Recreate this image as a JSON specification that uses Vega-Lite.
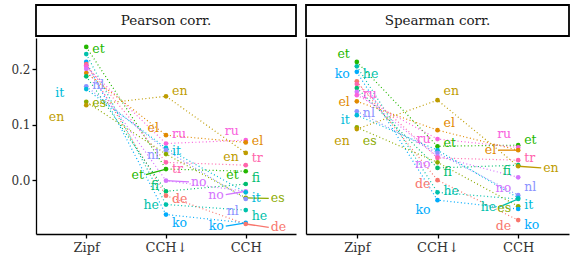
{
  "$schema": "https://vega.github.io/schema/vega-lite/v6.json",
  "padding": {"left": 10, "top": 4, "right": 4, "bottom": 2},
  "background": "white",
  "config": {
    "view": {"stroke": null},
    "concat": {"spacing": 8},
    "axis": {"grid": false, "domainColor": "black", "domainWidth": 1.3, "tickColor": "black", "tickWidth": 1.3, "tickSize": 4, "labelFont": "DejaVu Serif", "labelColor": "#333333", "labelFontSize": 12.5, "title": null}
  },
  "datasets": {
    "pts": [
      {"metric": "Pearson corr.", "method": "Zipf", "lang": "et", "value": 0.240},
      {"metric": "Pearson corr.", "method": "Zipf", "lang": "he", "value": 0.227},
      {"metric": "Pearson corr.", "method": "Zipf", "lang": "ko", "value": 0.213},
      {"metric": "Pearson corr.", "method": "Zipf", "lang": "de", "value": 0.209},
      {"metric": "Pearson corr.", "method": "Zipf", "lang": "tr", "value": 0.207},
      {"metric": "Pearson corr.", "method": "Zipf", "lang": "ru", "value": 0.204},
      {"metric": "Pearson corr.", "method": "Zipf", "lang": "no", "value": 0.200},
      {"metric": "Pearson corr.", "method": "Zipf", "lang": "el", "value": 0.193},
      {"metric": "Pearson corr.", "method": "Zipf", "lang": "fi", "value": 0.187},
      {"metric": "Pearson corr.", "method": "Zipf", "lang": "nl", "value": 0.169},
      {"metric": "Pearson corr.", "method": "Zipf", "lang": "it", "value": 0.164},
      {"metric": "Pearson corr.", "method": "Zipf", "lang": "es", "value": 0.141},
      {"metric": "Pearson corr.", "method": "Zipf", "lang": "en", "value": 0.135},
      {"metric": "Pearson corr.", "method": "CCH↓", "lang": "en", "value": 0.151},
      {"metric": "Pearson corr.", "method": "CCH↓", "lang": "el", "value": 0.081},
      {"metric": "Pearson corr.", "method": "CCH↓", "lang": "ru", "value": 0.066},
      {"metric": "Pearson corr.", "method": "CCH↓", "lang": "it", "value": 0.058},
      {"metric": "Pearson corr.", "method": "CCH↓", "lang": "nl", "value": 0.054},
      {"metric": "Pearson corr.", "method": "CCH↓", "lang": "es", "value": 0.047},
      {"metric": "Pearson corr.", "method": "CCH↓", "lang": "tr", "value": 0.032},
      {"metric": "Pearson corr.", "method": "CCH↓", "lang": "et", "value": 0.020},
      {"metric": "Pearson corr.", "method": "CCH↓", "lang": "no", "value": -0.001},
      {"metric": "Pearson corr.", "method": "CCH↓", "lang": "fi", "value": -0.020},
      {"metric": "Pearson corr.", "method": "CCH↓", "lang": "de", "value": -0.028},
      {"metric": "Pearson corr.", "method": "CCH↓", "lang": "he", "value": -0.044},
      {"metric": "Pearson corr.", "method": "CCH↓", "lang": "ko", "value": -0.062},
      {"metric": "Pearson corr.", "method": "CCH", "lang": "ru", "value": 0.072},
      {"metric": "Pearson corr.", "method": "CCH", "lang": "el", "value": 0.068},
      {"metric": "Pearson corr.", "method": "CCH", "lang": "en", "value": 0.049},
      {"metric": "Pearson corr.", "method": "CCH", "lang": "tr", "value": 0.027},
      {"metric": "Pearson corr.", "method": "CCH", "lang": "et", "value": 0.016},
      {"metric": "Pearson corr.", "method": "CCH", "lang": "fi", "value": -0.007},
      {"metric": "Pearson corr.", "method": "CCH", "lang": "no", "value": -0.020},
      {"metric": "Pearson corr.", "method": "CCH", "lang": "it", "value": -0.022},
      {"metric": "Pearson corr.", "method": "CCH", "lang": "es", "value": -0.032},
      {"metric": "Pearson corr.", "method": "CCH", "lang": "nl", "value": -0.034},
      {"metric": "Pearson corr.", "method": "CCH", "lang": "he", "value": -0.054},
      {"metric": "Pearson corr.", "method": "CCH", "lang": "ko", "value": -0.077},
      {"metric": "Pearson corr.", "method": "CCH", "lang": "de", "value": -0.079},
      {"metric": "Spearman corr.", "method": "Zipf", "lang": "et", "value": 0.213},
      {"metric": "Spearman corr.", "method": "Zipf", "lang": "he", "value": 0.205},
      {"metric": "Spearman corr.", "method": "Zipf", "lang": "ko", "value": 0.195},
      {"metric": "Spearman corr.", "method": "Zipf", "lang": "de", "value": 0.178},
      {"metric": "Spearman corr.", "method": "Zipf", "lang": "tr", "value": 0.173},
      {"metric": "Spearman corr.", "method": "Zipf", "lang": "fi", "value": 0.166},
      {"metric": "Spearman corr.", "method": "Zipf", "lang": "no", "value": 0.159},
      {"metric": "Spearman corr.", "method": "Zipf", "lang": "ru", "value": 0.153},
      {"metric": "Spearman corr.", "method": "Zipf", "lang": "el", "value": 0.142},
      {"metric": "Spearman corr.", "method": "Zipf", "lang": "nl", "value": 0.124},
      {"metric": "Spearman corr.", "method": "Zipf", "lang": "it", "value": 0.117},
      {"metric": "Spearman corr.", "method": "Zipf", "lang": "es", "value": 0.095},
      {"metric": "Spearman corr.", "method": "Zipf", "lang": "en", "value": 0.092},
      {"metric": "Spearman corr.", "method": "CCH↓", "lang": "en", "value": 0.144},
      {"metric": "Spearman corr.", "method": "CCH↓", "lang": "el", "value": 0.090},
      {"metric": "Spearman corr.", "method": "CCH↓", "lang": "ru", "value": 0.074},
      {"metric": "Spearman corr.", "method": "CCH↓", "lang": "et", "value": 0.061},
      {"metric": "Spearman corr.", "method": "CCH↓", "lang": "it", "value": 0.054},
      {"metric": "Spearman corr.", "method": "CCH↓", "lang": "nl", "value": 0.049},
      {"metric": "Spearman corr.", "method": "CCH↓", "lang": "no", "value": 0.043},
      {"metric": "Spearman corr.", "method": "CCH↓", "lang": "tr", "value": 0.040},
      {"metric": "Spearman corr.", "method": "CCH↓", "lang": "es", "value": 0.032},
      {"metric": "Spearman corr.", "method": "CCH↓", "lang": "fi", "value": 0.022},
      {"metric": "Spearman corr.", "method": "CCH↓", "lang": "de", "value": 0.000},
      {"metric": "Spearman corr.", "method": "CCH↓", "lang": "he", "value": -0.022},
      {"metric": "Spearman corr.", "method": "CCH↓", "lang": "ko", "value": -0.036},
      {"metric": "Spearman corr.", "method": "CCH", "lang": "et", "value": 0.063},
      {"metric": "Spearman corr.", "method": "CCH", "lang": "ru", "value": 0.059},
      {"metric": "Spearman corr.", "method": "CCH", "lang": "el", "value": 0.054},
      {"metric": "Spearman corr.", "method": "CCH", "lang": "tr", "value": 0.036},
      {"metric": "Spearman corr.", "method": "CCH", "lang": "fi", "value": 0.027},
      {"metric": "Spearman corr.", "method": "CCH", "lang": "en", "value": 0.025},
      {"metric": "Spearman corr.", "method": "CCH", "lang": "no", "value": 0.005},
      {"metric": "Spearman corr.", "method": "CCH", "lang": "nl", "value": -0.027},
      {"metric": "Spearman corr.", "method": "CCH", "lang": "it", "value": -0.032},
      {"metric": "Spearman corr.", "method": "CCH", "lang": "he", "value": -0.034},
      {"metric": "Spearman corr.", "method": "CCH", "lang": "es", "value": -0.047},
      {"metric": "Spearman corr.", "method": "CCH", "lang": "ko", "value": -0.052},
      {"metric": "Spearman corr.", "method": "CCH", "lang": "de", "value": -0.072}
    ],
    "labs": [
      {"metric": "Pearson corr.", "method": "Zipf", "lang": "et", "side": "r", "at": 0.236},
      {"metric": "Pearson corr.", "method": "Zipf", "lang": "nl", "side": "r", "at": 0.171},
      {"metric": "Pearson corr.", "method": "Zipf", "lang": "it", "side": "ll", "at": 0.157},
      {"metric": "Pearson corr.", "method": "Zipf", "lang": "es", "side": "r", "at": 0.139},
      {"metric": "Pearson corr.", "method": "Zipf", "lang": "en", "side": "ll", "at": 0.114},
      {"metric": "Pearson corr.", "method": "CCH↓", "lang": "en", "side": "r", "at": 0.161},
      {"metric": "Pearson corr.", "method": "CCH↓", "lang": "el", "side": "l", "at": 0.094},
      {"metric": "Pearson corr.", "method": "CCH↓", "lang": "ru", "side": "r", "at": 0.083},
      {"metric": "Pearson corr.", "method": "CCH↓", "lang": "it", "side": "r", "at": 0.052},
      {"metric": "Pearson corr.", "method": "CCH↓", "lang": "nl", "side": "l", "at": 0.046},
      {"metric": "Pearson corr.", "method": "CCH↓", "lang": "tr", "side": "r", "at": 0.020},
      {"metric": "Pearson corr.", "method": "CCH↓", "lang": "et", "side": "ll", "at": 0.010, "value": 0.020},
      {"metric": "Pearson corr.", "method": "CCH↓", "lang": "no", "side": "rr", "at": -0.003, "value": -0.001},
      {"metric": "Pearson corr.", "method": "CCH↓", "lang": "fi", "side": "l", "at": -0.011},
      {"metric": "Pearson corr.", "method": "CCH↓", "lang": "de", "side": "r", "at": -0.034},
      {"metric": "Pearson corr.", "method": "CCH↓", "lang": "he", "side": "l", "at": -0.044},
      {"metric": "Pearson corr.", "method": "CCH↓", "lang": "ko", "side": "r", "at": -0.077},
      {"metric": "Pearson corr.", "method": "CCH", "lang": "ru", "side": "l", "at": 0.088},
      {"metric": "Pearson corr.", "method": "CCH", "lang": "el", "side": "r", "at": 0.070},
      {"metric": "Pearson corr.", "method": "CCH", "lang": "en", "side": "l", "at": 0.041},
      {"metric": "Pearson corr.", "method": "CCH", "lang": "tr", "side": "r", "at": 0.039},
      {"metric": "Pearson corr.", "method": "CCH", "lang": "et", "side": "l", "at": 0.010},
      {"metric": "Pearson corr.", "method": "CCH", "lang": "fi", "side": "r", "at": 0.003},
      {"metric": "Pearson corr.", "method": "CCH", "lang": "no", "side": "ll", "at": -0.026, "value": -0.020},
      {"metric": "Pearson corr.", "method": "CCH", "lang": "it", "side": "r", "at": -0.033},
      {"metric": "Pearson corr.", "method": "CCH", "lang": "es", "side": "rr", "at": -0.033, "value": -0.032},
      {"metric": "Pearson corr.", "method": "CCH", "lang": "nl", "side": "l", "at": -0.055},
      {"metric": "Pearson corr.", "method": "CCH", "lang": "he", "side": "r", "at": -0.065},
      {"metric": "Pearson corr.", "method": "CCH", "lang": "ko", "side": "ll", "at": -0.083, "value": -0.077},
      {"metric": "Pearson corr.", "method": "CCH", "lang": "de", "side": "rr", "at": -0.085, "value": -0.079},
      {"metric": "Spearman corr.", "method": "Zipf", "lang": "et", "side": "l", "at": 0.227},
      {"metric": "Spearman corr.", "method": "Zipf", "lang": "ko", "side": "l", "at": 0.192},
      {"metric": "Spearman corr.", "method": "Zipf", "lang": "he", "side": "r", "at": 0.192},
      {"metric": "Spearman corr.", "method": "Zipf", "lang": "ru", "side": "r", "at": 0.155},
      {"metric": "Spearman corr.", "method": "Zipf", "lang": "el", "side": "l", "at": 0.141},
      {"metric": "Spearman corr.", "method": "Zipf", "lang": "nl", "side": "r", "at": 0.121},
      {"metric": "Spearman corr.", "method": "Zipf", "lang": "it", "side": "l", "at": 0.108},
      {"metric": "Spearman corr.", "method": "Zipf", "lang": "en", "side": "l", "at": 0.070},
      {"metric": "Spearman corr.", "method": "Zipf", "lang": "es", "side": "r", "at": 0.070},
      {"metric": "Spearman corr.", "method": "CCH↓", "lang": "en", "side": "r", "at": 0.160},
      {"metric": "Spearman corr.", "method": "CCH↓", "lang": "el", "side": "r", "at": 0.103},
      {"metric": "Spearman corr.", "method": "CCH↓", "lang": "ru", "side": "l", "at": 0.074},
      {"metric": "Spearman corr.", "method": "CCH↓", "lang": "et", "side": "r", "at": 0.067},
      {"metric": "Spearman corr.", "method": "CCH↓", "lang": "no", "side": "l", "at": 0.029},
      {"metric": "Spearman corr.", "method": "CCH↓", "lang": "fi", "side": "r", "at": 0.014},
      {"metric": "Spearman corr.", "method": "CCH↓", "lang": "de", "side": "l", "at": -0.007},
      {"metric": "Spearman corr.", "method": "CCH↓", "lang": "he", "side": "r", "at": -0.020},
      {"metric": "Spearman corr.", "method": "CCH↓", "lang": "ko", "side": "l", "at": -0.054},
      {"metric": "Spearman corr.", "method": "CCH", "lang": "ru", "side": "l", "at": 0.083},
      {"metric": "Spearman corr.", "method": "CCH", "lang": "et", "side": "r", "at": 0.072},
      {"metric": "Spearman corr.", "method": "CCH", "lang": "el", "side": "ll", "at": 0.054, "value": 0.054},
      {"metric": "Spearman corr.", "method": "CCH", "lang": "tr", "side": "r", "at": 0.039},
      {"metric": "Spearman corr.", "method": "CCH", "lang": "en", "side": "rr", "at": 0.022, "value": 0.025},
      {"metric": "Spearman corr.", "method": "CCH", "lang": "fi", "side": "l", "at": 0.017},
      {"metric": "Spearman corr.", "method": "CCH", "lang": "no", "side": "l", "at": -0.014},
      {"metric": "Spearman corr.", "method": "CCH", "lang": "nl", "side": "r", "at": -0.013},
      {"metric": "Spearman corr.", "method": "CCH", "lang": "it", "side": "r", "at": -0.045},
      {"metric": "Spearman corr.", "method": "CCH", "lang": "he", "side": "ll", "at": -0.049, "value": -0.034},
      {"metric": "Spearman corr.", "method": "CCH", "lang": "es", "side": "l", "at": -0.050},
      {"metric": "Spearman corr.", "method": "CCH", "lang": "ko", "side": "r", "at": -0.080},
      {"metric": "Spearman corr.", "method": "CCH", "lang": "de", "side": "l", "at": -0.083}
    ],
    "strips": [
      {"metric": "Pearson corr."},
      {"metric": "Spearman corr."}
    ]
  },
  "hconcat": [
    {
      "spacing": 1,
      "vconcat": [
        {
          "width": 260, "height": 31,
          "data": {"name": "strips"},
          "transform": [{"filter": "datum.metric === 'Pearson corr.'"}],
          "layer": [
            {"mark": {"type": "rect", "fill": "white", "stroke": "black", "strokeWidth": 1.8}, "encoding": {}},
            {"mark": {"type": "text", "fontSize": 13.5, "color": "#1a1a1a", "font": "DejaVu Serif"}, "encoding": {"text": {"field": "metric"}}}
          ]
        },
        {
          "width": 260, "height": 196,
          "encoding": {
            "x": {"field": "method", "type": "nominal", "sort": ["Zipf", "CCH↓", "CCH"], "scale": {"type": "point", "padding": 0.63}, "axis": {"labelAngle": 0, "labelPadding": 3, "labelFont": "DejaVu Serif", "labelFontSize": 13}},
            "color": {"field": "lang", "type": "nominal", "legend": null, "scale": {"domain": ["de", "el", "en", "es", "et", "fi", "he", "it", "ko", "nl", "no", "ru", "tr"], "range": ["#F8766D", "#E18A00", "#BE9C00", "#8CAB00", "#24B700", "#00BE70", "#00C1AB", "#00BBDA", "#00ACFC", "#8B93FF", "#D575FE", "#F962DD", "#FF65AC"]}}
          },
          "layer": [
            {
              "data": {"name": "pts"},
              "transform": [{"filter": "datum.metric === 'Pearson corr.'"}],
              "mark": {"type": "line", "strokeDash": [1, 2.5], "strokeWidth": 1.2},
              "encoding": {
                "y": {"field": "value", "type": "quantitative", "scale": {"domain": [-0.097, 0.256], "nice": false, "zero": false}, "axis": {"values": [0, 0.1, 0.2], "format": ".1f", "labelFont": "DejaVu Serif", "labelFontSize": 12}},
                "detail": {"field": "lang"}
              }
            },
            {
              "data": {"name": "labs"},
              "transform": [{"filter": "datum.metric === 'Pearson corr.' && datum.side === 'll' && datum.value != null"}],
              "mark": {"type": "rule", "strokeWidth": 1.3, "xOffset": -20},
              "encoding": {"y": {"field": "at", "type": "quantitative"}, "y2": {"field": "value"}, "x2": {"field": "method"}}
            },
            {
              "data": {"name": "labs"},
              "transform": [{"filter": "datum.metric === 'Pearson corr.' && datum.side === 'rr' && datum.value != null"}],
              "mark": {"type": "rule", "strokeWidth": 1.3, "xOffset": 23},
              "encoding": {"y": {"field": "at", "type": "quantitative"}, "y2": {"field": "value"}, "x2": {"field": "method"}}
            },
            {
              "data": {"name": "pts"},
              "transform": [{"filter": "datum.metric === 'Pearson corr.'"}],
              "mark": {"type": "circle", "size": 22, "opacity": 1},
              "encoding": {"y": {"field": "value", "type": "quantitative"}}
            },
            {
              "data": {"name": "labs"},
              "transform": [{"filter": "datum.metric === 'Pearson corr.' && datum.side === 'r'"}],
              "mark": {"type": "text", "align": "left", "dx": 6, "fontSize": 12.5, "baseline": "middle", "font": "DejaVu Serif"},
              "encoding": {"y": {"field": "at", "type": "quantitative"}, "text": {"field": "lang"}}
            },
            {
              "data": {"name": "labs"},
              "transform": [{"filter": "datum.metric === 'Pearson corr.' && datum.side === 'rr'"}],
              "mark": {"type": "text", "align": "left", "dx": 25, "fontSize": 12.5, "baseline": "middle", "font": "DejaVu Serif"},
              "encoding": {"y": {"field": "at", "type": "quantitative"}, "text": {"field": "lang"}}
            },
            {
              "data": {"name": "labs"},
              "transform": [{"filter": "datum.metric === 'Pearson corr.' && datum.side === 'l'"}],
              "mark": {"type": "text", "align": "right", "dx": -7, "fontSize": 12.5, "baseline": "middle", "font": "DejaVu Serif"},
              "encoding": {"y": {"field": "at", "type": "quantitative"}, "text": {"field": "lang"}}
            },
            {
              "data": {"name": "labs"},
              "transform": [{"filter": "datum.metric === 'Pearson corr.' && datum.side === 'll'"}],
              "mark": {"type": "text", "align": "right", "dx": -22, "fontSize": 12.5, "baseline": "middle", "font": "DejaVu Serif"},
              "encoding": {"y": {"field": "at", "type": "quantitative"}, "text": {"field": "lang"}}
            }
          ]
        }
      ]
    },
    {
      "spacing": 1,
      "vconcat": [
        {
          "width": 263, "height": 31,
          "data": {"name": "strips"},
          "transform": [{"filter": "datum.metric === 'Spearman corr.'"}],
          "layer": [
            {"mark": {"type": "rect", "fill": "white", "stroke": "black", "strokeWidth": 1.8}, "encoding": {}},
            {"mark": {"type": "text", "fontSize": 13.5, "color": "#1a1a1a", "font": "DejaVu Serif"}, "encoding": {"text": {"field": "metric"}}}
          ]
        },
        {
          "width": 263, "height": 196,
          "encoding": {
            "x": {"field": "method", "type": "nominal", "sort": ["Zipf", "CCH↓", "CCH"], "scale": {"type": "point", "padding": 0.63}, "axis": {"labelAngle": 0, "labelPadding": 3, "labelFont": "DejaVu Serif", "labelFontSize": 13}},
            "color": {"field": "lang", "type": "nominal", "legend": null, "scale": {"domain": ["de", "el", "en", "es", "et", "fi", "he", "it", "ko", "nl", "no", "ru", "tr"], "range": ["#F8766D", "#E18A00", "#BE9C00", "#8CAB00", "#24B700", "#00BE70", "#00C1AB", "#00BBDA", "#00ACFC", "#8B93FF", "#D575FE", "#F962DD", "#FF65AC"]}}
          },
          "layer": [
            {
              "data": {"name": "pts"},
              "transform": [{"filter": "datum.metric === 'Spearman corr.'"}],
              "mark": {"type": "line", "strokeDash": [1, 2.5], "strokeWidth": 1.2},
              "encoding": {
                "y": {"field": "value", "type": "quantitative", "scale": {"domain": [-0.097, 0.256], "nice": false, "zero": false}, "axis": {"values": [0, 0.1, 0.2], "labels": false, "ticks": false}},
                "detail": {"field": "lang"}
              }
            },
            {
              "data": {"name": "labs"},
              "transform": [{"filter": "datum.metric === 'Spearman corr.' && datum.side === 'll' && datum.value != null"}],
              "mark": {"type": "rule", "strokeWidth": 1.3, "xOffset": -20},
              "encoding": {"y": {"field": "at", "type": "quantitative"}, "y2": {"field": "value"}, "x2": {"field": "method"}}
            },
            {
              "data": {"name": "labs"},
              "transform": [{"filter": "datum.metric === 'Spearman corr.' && datum.side === 'rr' && datum.value != null"}],
              "mark": {"type": "rule", "strokeWidth": 1.3, "xOffset": 23},
              "encoding": {"y": {"field": "at", "type": "quantitative"}, "y2": {"field": "value"}, "x2": {"field": "method"}}
            },
            {
              "data": {"name": "pts"},
              "transform": [{"filter": "datum.metric === 'Spearman corr.'"}],
              "mark": {"type": "circle", "size": 22, "opacity": 1},
              "encoding": {"y": {"field": "value", "type": "quantitative"}}
            },
            {
              "data": {"name": "labs"},
              "transform": [{"filter": "datum.metric === 'Spearman corr.' && datum.side === 'r'"}],
              "mark": {"type": "text", "align": "left", "dx": 6, "fontSize": 12.5, "baseline": "middle", "font": "DejaVu Serif"},
              "encoding": {"y": {"field": "at", "type": "quantitative"}, "text": {"field": "lang"}}
            },
            {
              "data": {"name": "labs"},
              "transform": [{"filter": "datum.metric === 'Spearman corr.' && datum.side === 'rr'"}],
              "mark": {"type": "text", "align": "left", "dx": 25, "fontSize": 12.5, "baseline": "middle", "font": "DejaVu Serif"},
              "encoding": {"y": {"field": "at", "type": "quantitative"}, "text": {"field": "lang"}}
            },
            {
              "data": {"name": "labs"},
              "transform": [{"filter": "datum.metric === 'Spearman corr.' && datum.side === 'l'"}],
              "mark": {"type": "text", "align": "right", "dx": -7, "fontSize": 12.5, "baseline": "middle", "font": "DejaVu Serif"},
              "encoding": {"y": {"field": "at", "type": "quantitative"}, "text": {"field": "lang"}}
            },
            {
              "data": {"name": "labs"},
              "transform": [{"filter": "datum.metric === 'Spearman corr.' && datum.side === 'll'"}],
              "mark": {"type": "text", "align": "right", "dx": -22, "fontSize": 12.5, "baseline": "middle", "font": "DejaVu Serif"},
              "encoding": {"y": {"field": "at", "type": "quantitative"}, "text": {"field": "lang"}}
            }
          ]
        }
      ]
    }
  ]
}
